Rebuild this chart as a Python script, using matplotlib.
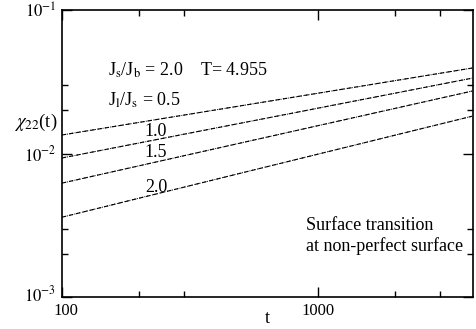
import numpy as np
import matplotlib
matplotlib.use("Agg")
import matplotlib.pyplot as plt
import matplotlib.transforms as mtransforms
from matplotlib.ticker import LogLocator, FixedLocator, FixedFormatter, NullFormatter

plt.rcParams['font.family'] = ['Liberation Serif', 'DejaVu Serif']
plt.rcParams['mathtext.fontset'] = 'stix'

# time values
t = [100, 200, 300, 500, 700, 1000, 1500, 2000, 3000, 4000]

# chi_22(t) for J1/Js = 0.5, 1.0, 1.5, 2.0
ratios = ['0.5', '1.0', '1.5', '2.0']
chi_05 = [0.01346, 0.01648, 0.01854, 0.02150, 0.02371, 0.02630, 0.02958, 0.03221, 0.03622, 0.03940]
chi_10 = [0.00931, 0.01183, 0.01365, 0.01629, 0.01828, 0.02070, 0.02382, 0.02630, 0.03034, 0.03350]
chi_15 = [0.00622, 0.00821, 0.00966, 0.01186, 0.01355, 0.01563, 0.01837, 0.02061, 0.02427, 0.02723]
chi_20 = [0.00360, 0.00489, 0.00583, 0.00731, 0.00847, 0.00991, 0.01183, 0.01343, 0.01603, 0.01820]
series = [chi_05, chi_10, chi_15, chi_20]

# fitted power laws, given by their end points
fit_t = [100, 4000]
fit_05 = [0.01346, 0.03940]
fit_10 = [0.00931, 0.03350]
fit_15 = [0.00622, 0.02723]
fit_20 = [0.00360, 0.01820]
fits = [fit_05, fit_10, fit_15, fit_20]

fig = plt.figure(figsize=(4.76, 3.29), dpi=100)
ax = fig.add_axes([0.130, 0.097, 0.8637, 0.8727])

for vals, fit in zip(series, fits):
    ax.plot(t, vals, color='black', lw=0.7, ls=':')
    ax.plot(fit_t, fit, color='black', lw=0.8, ls=(0, (4, 2.5)))

ax.set_xscale('log')
ax.set_yscale('log')
ax.set_xlim(100, 4030)
ax.set_ylim(1e-3, 1e-1)

ax.xaxis.set_major_locator(FixedLocator([100, 1000]))
ax.xaxis.set_major_formatter(FixedFormatter(['100', '1000']))
ax.xaxis.set_minor_locator(LogLocator(base=10, subs=(2, 3)))
ax.xaxis.set_minor_formatter(NullFormatter())
ax.yaxis.set_major_locator(FixedLocator([1e-3, 1e-2, 1e-1]))
ax.yaxis.set_major_formatter(FixedFormatter([r'$10^{-3}$', r'$10^{-2}$', r'$10^{-1}$']))
ax.yaxis.set_minor_locator(LogLocator(base=10, subs=(2, 3)))
ax.yaxis.set_minor_formatter(NullFormatter())

ax.tick_params(which='both', direction='in', top=True, right=True, labelsize=12, width=1)
ax.tick_params(which='major', length=7, pad=4)
ax.tick_params(which='minor', length=4)
for s in ax.spines.values():
    s.set_linewidth(1.2)

# nudge the corner labels apart, as in the original
fig.canvas.draw()
xlab = ax.get_xticklabels()[0]
xlab.set_transform(xlab.get_transform() + mtransforms.ScaledTranslation(3 / 72, 0, fig.dpi_scale_trans))
ylab = ax.get_yticklabels()[0]
ylab.set_transform(ylab.get_transform() + mtransforms.ScaledTranslation(0, 3 / 72, fig.dpi_scale_trans))

ax.set_xlabel('t', fontsize=13, va='center')
ax.xaxis.set_label_coords(0.499, -0.073)
ax.set_ylabel(r'$\chi_{22}$(t)', fontsize=13.5, rotation=0, ha='center', va='center')
ax.yaxis.set_label_coords(-0.063, 0.61)

fs = 13
ax.text(0.112, 0.791, r'J$_\mathrm{s}$/J$_\mathrm{b}$ = 2.0    T= 4.955', transform=ax.transAxes, fontsize=fs, va='center')
ax.text(0.112, 0.686, r'J$_\mathrm{l}$/J$_\mathrm{s}$ = 0.5', transform=ax.transAxes, fontsize=fs, va='center')
ax.text(0.229, 0.578, '1.0', transform=ax.transAxes, fontsize=fs, va='center', ha='center')
ax.text(0.229, 0.502, '1.5', transform=ax.transAxes, fontsize=fs, va='center', ha='center')
ax.text(0.229, 0.38, '2.0', transform=ax.transAxes, fontsize=fs, va='center', ha='center')
ax.text(0.594, 0.251, 'Surface transition', transform=ax.transAxes, fontsize=fs, va='center')
ax.text(0.594, 0.178, 'at non-perfect surface', transform=ax.transAxes, fontsize=fs, va='center')

fig.savefig('out.png', dpi=100)
